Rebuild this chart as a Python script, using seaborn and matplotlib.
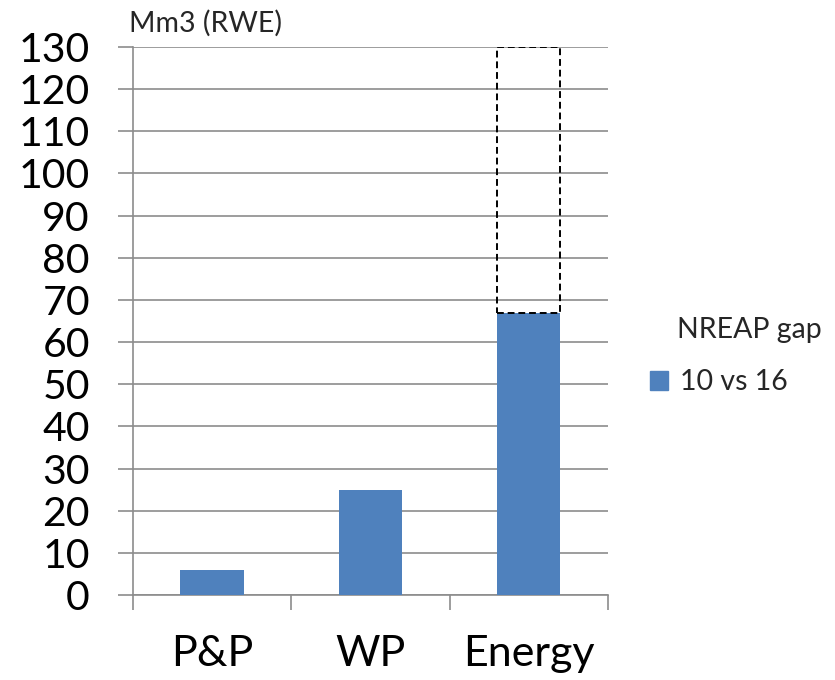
import matplotlib
matplotlib.use("Agg")
import matplotlib.pyplot as plt
import seaborn as sns
import pandas as pd
from matplotlib.patches import Patch

# ----------------------------
# Data
# ----------------------------
categories = ["P&P", "WP", "Energy"]
gap_10_vs_16 = [6, 25, 67]
energy_upper = 130  # top of dashed range for Energy
y_ticks = list(range(0, 131, 10))

df = pd.DataFrame({"sector": categories, "gap": gap_10_vs_16})

bar_color = "#4F81BD"
grid_color = "#8C8C8C"

sns.set_theme(style="white")
plt.rcParams["font.family"] = ["Lato", "DejaVu Sans"]

fig = plt.figure(figsize=(8.35, 6.8), dpi=100)
ax = fig.add_axes([0.159, 0.125, 0.569, 0.806])

sns.barplot(data=df, x="sector", y="gap", color=bar_color, width=0.4,
            saturation=1, linewidth=0, ax=ax, zorder=3)

# dashed outline for the upper Energy range
e_idx = categories.index("Energy")
e_val = gap_10_vs_16[e_idx]
ax.bar(e_idx, energy_upper - e_val, bottom=e_val, width=0.4, fill=False,
       edgecolor="black", linestyle=(0, (3.5, 2)), linewidth=1.4, zorder=4)

ax.set_ylim(0, 130)
ax.set_xlim(-0.5, len(categories) - 0.5)
ax.set_yticks(y_ticks)
ax.yaxis.grid(True, color=grid_color, linewidth=1.2, zorder=0)
ax.set_axisbelow(True)

for side in ["top", "right"]:
    ax.spines[side].set_visible(False)
for side in ["left", "bottom"]:
    ax.spines[side].set_color(grid_color)
    ax.spines[side].set_linewidth(1.2)

ax.tick_params(axis="y", left=True, length=10.8, width=1.2, color=grid_color,
               labelsize=29.5, pad=20, labelcolor="black")
ax.set_xticks(range(len(categories)))
ax.set_xticks([i - 0.5 for i in range(len(categories) + 1)], minor=True)
ax.tick_params(axis="x", which="major", length=0, labelsize=31, pad=29,
               labelcolor="black")
ax.tick_params(axis="x", which="minor", bottom=True, length=10.8, width=1.2,
               color=grid_color)
ax.set_xlabel("")
ax.set_ylabel("")

fig.text(0.155, 0.946, "Mm3 (RWE)", fontsize=20.5, ha="left", va="bottom")

fig.text(0.811, 0.515, "NREAP gap", fontsize=20.5, ha="left", va="center")
handles = [Patch(facecolor=bar_color, edgecolor=bar_color, label="10 vs 16")]
fig.legend(handles=handles, loc="center left", bbox_to_anchor=(0.778, 0.438),
           frameon=False, fontsize=20.5, handlelength=0.65, handleheight=0.65,
           handletextpad=0.4, borderaxespad=0, borderpad=0)

fig.savefig("out.png", dpi=100)
